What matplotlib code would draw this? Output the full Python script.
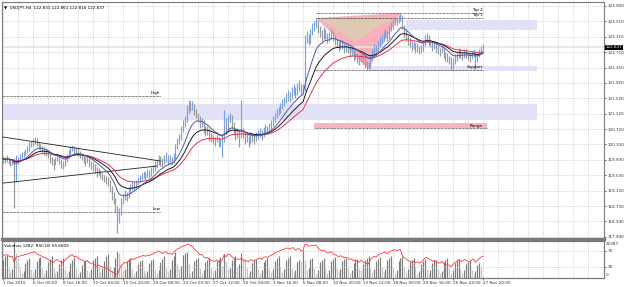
import numpy as np
import matplotlib.pyplot as plt
from matplotlib.patches import Rectangle, Polygon

# USDJPY H4, 1 Oct - 27 Nov 2015
first_open = 119.90
closes = [
    119.95, 119.92, 119.98, 119.90, 119.85, 119.88, 119.40, 119.85,
    119.95, 120.00, 120.05, 120.10, 120.15, 120.20, 120.30, 120.35,
    120.40, 120.45, 120.35, 120.30, 120.25, 120.20, 120.15, 120.10,
    120.05, 119.95, 119.90, 119.85, 119.95, 120.00, 119.90, 119.85,
    119.80, 119.90, 120.00, 120.10, 120.20, 120.25, 120.15, 120.20,
    120.10, 120.05, 120.00, 119.95, 119.90, 119.95, 119.85, 119.80,
    119.75, 119.70, 119.60, 119.65, 119.55, 119.50, 119.45, 119.40,
    119.35, 119.20, 119.00, 118.90, 118.70, 118.40, 118.60, 118.85,
    118.95, 119.05, 119.00, 119.15, 119.20, 119.30, 119.25, 119.35,
    119.40, 119.45, 119.50, 119.55, 119.50, 119.60, 119.55, 119.65,
    119.70, 119.80, 119.85, 119.95, 119.90, 119.85, 119.95, 120.00,
    119.90, 119.95, 119.90, 120.00, 120.25, 120.40, 120.50, 120.70,
    120.85, 120.95, 121.25, 121.40, 121.30, 121.35, 121.20, 121.10,
    121.00, 120.85, 120.90, 120.75, 120.65, 120.70, 120.55, 120.50,
    120.45, 120.40, 120.50, 120.35, 120.40, 120.45, 120.90, 120.75,
    121.00, 121.05, 120.85, 120.70, 120.60, 120.65, 120.60, 120.70,
    120.60, 120.45, 120.50, 120.40, 120.55, 120.50, 120.45, 120.55,
    120.60, 120.65, 120.55, 120.70, 120.75, 120.70, 120.80, 120.85,
    120.95, 121.05, 121.15, 121.20, 121.30, 121.40, 121.45, 121.55,
    121.60, 121.55, 121.70, 121.75, 121.65, 121.80, 121.85, 121.75,
    121.80, 123.05, 123.15, 123.00, 123.20, 123.35, 123.40, 123.50,
    123.30, 123.20, 123.10, 123.25, 123.15, 123.05, 123.10, 123.20,
    123.10, 123.00, 122.95, 122.85, 122.95, 122.90, 122.80, 122.85,
    122.80, 122.70, 122.75, 122.60, 122.65, 122.55, 122.50, 122.60,
    122.50, 122.40, 122.35, 122.35, 122.55, 122.70, 122.80, 122.75,
    122.90, 123.00, 123.05, 123.15, 123.20, 123.10, 123.30, 123.40,
    123.45, 123.55, 123.50, 123.60, 123.65, 123.35, 123.20, 123.10,
    123.00, 122.95, 122.85, 122.90, 122.80, 122.85, 122.75, 122.80,
    122.90, 123.05, 123.10, 123.00, 122.95, 122.85, 122.90, 122.80,
    122.75, 122.70, 122.80, 122.65, 122.60, 122.55, 122.50, 122.35,
    122.45, 122.55, 122.60, 122.70, 122.65, 122.60, 122.70, 122.65,
    122.60, 122.55, 122.65, 122.70, 122.50, 122.60, 122.70, 122.80,
    122.837,
]
highs = [
    120.02, 120.00, 120.05, 120.00, 119.95, 119.96, 119.98, 120.05,
    120.00, 120.08, 120.12, 120.15, 120.22, 120.28, 120.38, 120.42,
    120.48, 120.52, 120.50, 120.40, 120.35, 120.30, 120.25, 120.22,
    120.15, 120.10, 120.00, 119.95, 120.00, 120.08, 120.05, 119.95,
    119.90, 119.98, 120.08, 120.18, 120.28, 120.32, 120.30, 120.26,
    120.24, 120.15, 120.10, 120.05, 120.00, 120.02, 119.98, 119.90,
    119.88, 119.82, 119.75, 119.72, 119.68, 119.60, 119.55, 119.52,
    119.48, 119.40, 119.25, 119.10, 118.95, 118.75, 118.70, 118.95,
    119.05, 119.15, 119.10, 119.22, 119.30, 119.38, 119.35, 119.42,
    119.50, 119.55, 119.58, 119.65, 119.62, 119.70, 119.68, 119.75,
    119.80, 119.90, 119.95, 120.05, 120.02, 119.98, 120.05, 120.12,
    120.05, 120.05, 120.00, 120.10, 120.35, 120.50, 120.60, 120.80,
    120.95, 121.05, 121.35, 121.48, 121.45, 121.45, 121.38, 121.25,
    121.15, 121.05, 121.00, 120.95, 120.80, 120.80, 120.75, 120.62,
    120.58, 120.52, 120.60, 120.52, 120.50, 120.55, 121.22, 121.00,
    121.10, 121.15, 121.08, 120.90, 120.75, 120.75, 120.72, 121.47,
    120.75, 120.65, 120.60, 120.55, 120.65, 120.62, 120.58, 120.65,
    120.70, 120.75, 120.70, 120.78, 120.85, 120.80, 120.88, 120.95,
    121.05, 121.15, 121.25, 121.30, 121.40, 121.50, 121.55, 121.65,
    121.72, 121.68, 121.80, 121.88, 121.80, 121.92, 121.99, 121.90,
    121.90, 123.15, 123.25, 123.18, 123.30, 123.45, 123.52, 123.59,
    123.55, 123.38, 123.28, 123.35, 123.30, 123.20, 123.22, 123.30,
    123.25, 123.15, 123.08, 123.00, 123.05, 123.02, 122.95, 122.95,
    122.92, 122.85, 122.85, 122.80, 122.75, 122.70, 122.62, 122.70,
    122.65, 122.55, 122.48, 122.45, 122.65, 122.80, 122.92, 122.90,
    123.00, 123.10, 123.15, 123.25, 123.30, 123.25, 123.38, 123.48,
    123.55, 123.62, 123.60, 123.68, 123.72, 123.68, 123.40, 123.28,
    123.15, 123.08, 123.00, 123.00, 122.95, 122.95, 122.88, 122.90,
    123.00, 123.15, 123.20, 123.15, 123.05, 123.00, 122.98, 122.95,
    122.88, 122.82, 122.90, 122.85, 122.72, 122.68, 122.62, 122.58,
    122.55, 122.65, 122.72, 122.82, 122.78, 122.72, 122.80, 122.78,
    122.72, 122.68, 122.75, 122.80, 122.72, 122.70, 122.78, 122.88,
    122.92,
]
lows = [
    119.85, 119.86, 119.88, 119.82, 119.78, 119.80, 118.69, 119.35,
    119.82, 119.90, 119.95, 120.00, 120.05, 120.10, 120.15, 120.25,
    120.30, 120.35, 120.28, 120.22, 120.18, 120.10, 120.05, 120.02,
    119.98, 119.85, 119.80, 119.68, 119.80, 119.90, 119.82, 119.72,
    119.70, 119.78, 119.88, 119.98, 120.06, 120.15, 120.08, 120.10,
    120.02, 119.98, 119.92, 119.85, 119.78, 119.85, 119.75, 119.70,
    119.65, 119.60, 119.50, 119.55, 119.45, 119.40, 119.35, 119.30,
    119.25, 119.10, 118.90, 118.78, 118.55, 118.04, 118.30, 118.50,
    118.80, 118.90, 118.88, 118.95, 119.08, 119.15, 119.15, 119.20,
    119.30, 119.35, 119.40, 119.45, 119.40, 119.48, 119.45, 119.52,
    119.58, 119.65, 119.72, 119.80, 119.78, 119.75, 119.82, 119.88,
    119.80, 119.82, 119.80, 119.85, 119.95, 120.20, 120.35, 120.45,
    120.65, 120.78, 120.90, 121.15, 121.20, 121.22, 121.10, 121.00,
    120.90, 120.75, 120.78, 120.62, 120.55, 120.58, 120.42, 120.38,
    120.35, 120.30, 120.38, 120.25, 120.28, 120.00, 120.40, 120.60,
    120.70, 120.90, 120.75, 120.58, 120.45, 120.50, 120.25, 120.50,
    120.50, 120.35, 120.38, 120.25, 120.35, 120.40, 120.35, 120.42,
    120.48, 120.52, 120.45, 120.52, 120.62, 120.60, 120.66, 120.72,
    120.80, 120.90, 121.00, 121.08, 121.15, 121.25, 121.32, 121.40,
    121.45, 121.42, 121.50, 121.60, 121.52, 121.60, 121.70, 121.62,
    121.65, 121.70, 122.95, 122.90, 122.95, 123.15, 123.25, 123.32,
    123.20, 123.10, 123.00, 123.05, 123.05, 122.95, 123.00, 123.05,
    123.00, 122.90, 122.85, 122.75, 122.80, 122.78, 122.70, 122.72,
    122.70, 122.58, 122.62, 122.48, 122.52, 122.42, 122.38, 122.45,
    122.40, 122.30, 122.25, 122.25, 122.30, 122.50, 122.65, 122.62,
    122.70, 122.85, 122.92, 123.00, 123.08, 123.00, 123.05, 123.25,
    123.30, 123.40, 123.40, 123.45, 123.50, 123.30, 123.10, 123.00,
    122.90, 122.85, 122.75, 122.78, 122.70, 122.72, 122.65, 122.68,
    122.75, 122.88, 122.98, 122.90, 122.85, 122.75, 122.80, 122.70,
    122.65, 122.60, 122.68, 122.55, 122.48, 122.45, 122.40, 122.25,
    122.28, 122.40, 122.48, 122.55, 122.55, 122.50, 122.55, 122.55,
    122.50, 122.45, 122.52, 122.58, 122.27, 122.45, 122.58, 122.65,
    122.72,
]
volumes = [
    11000, 13500, 14500, 6500, 3500, 5500, 22387, 15500,
    12500, 6000, 3000, 4500, 9500, 11500, 12500, 5500,
    3500, 5500, 10500, 12500, 13000, 6000, 3000, 5000,
    10000, 12000, 13500, 6500, 3200, 4500, 9000, 11000,
    12500, 5500, 3000, 4500, 9500, 11500, 13000, 6000,
    2500, 4000, 8000, 10500, 11500, 5000, 3500, 5500,
    11000, 12500, 13500, 7000, 4000, 6000, 10500, 14000,
    15000, 7500, 5000, 7000, 12500, 17000, 15500, 8000,
    4500, 5500, 10500, 12000, 12500, 5500, 2800, 4200,
    8500, 10500, 11500, 5000, 3000, 4500, 9500, 11000,
    12000, 5500, 3200, 5000, 10000, 12000, 13500, 6500,
    3500, 5500, 11000, 14000, 16000, 8500, 5500, 7500,
    14500, 15500, 16500, 8500, 2500, 4200, 10500, 12000,
    12500, 6000, 3000, 4800, 10000, 11500, 13000, 6500,
    3500, 5000, 10500, 12000, 13000, 7500, 15000, 10500,
    5500, 6500, 11500, 12500, 14000, 7000, 9000, 15500,
    12500, 12000, 6500, 2500, 4200, 9500, 11000, 12000,
    5500, 3200, 4800, 10000, 11500, 12500, 6000, 3500,
    5500, 10500, 12500, 14000, 7000, 4000, 5500, 11000,
    12500, 13500, 6500, 3500, 5000, 10000, 11500, 10500,
    17500, 11500, 5000, 6500, 12000, 12500, 6000, 2500,
    4800, 10000, 11500, 12500, 6000, 3200, 5000, 10500,
    12000, 13000, 6500, 3500, 5500, 10500, 12000, 12500,
    6000, 3000, 4800, 9500, 11000, 12000, 5500, 4800,
    8500, 11000, 12500, 13500, 6500, 3500, 5500, 10500,
    12000, 13000, 7000, 3500, 5500, 11000, 12500, 13500,
    6500, 3200, 5000, 10500, 12500, 14000, 7000, 3500,
    5500, 10000, 11500, 12500, 6000, 2500, 4200, 8500,
    10500, 12000, 5500, 3000, 4800, 9500, 11000, 11500,
    5500, 3000, 4500, 10000, 11000, 12500, 6000, 3200,
    5000, 9500, 11000, 12000, 5500, 3000, 4800, 8500,
    10000, 11000, 5000, 2500, 4200, 8000, 9500, 7000,
    1282,
]

x_tick_bars = list(range(0, 257, 16))
x_tick_labels = ["1 Oct 2015", "6 Oct 00:00", "8 Oct 16:00", "13 Oct 04:00",
                 "15 Oct 20:00", "20 Oct 08:00", "23 Oct 00:00", "27 Oct 12:00",
                 "30 Oct 04:00", "3 Nov 16:00", "6 Nov 08:00", "10 Nov 20:00",
                 "13 Nov 12:00", "18 Nov 00:00", "20 Nov 16:00", "25 Nov 04:00",
                 "27 Nov 20:00"]
y_ticks = [123.900, 123.510, 123.110, 122.710, 122.310, 121.920, 121.520, 121.120,
           120.720, 120.330, 119.930, 119.530, 119.130, 118.730, 118.340, 117.940]

# drawn objects (price levels / bar positions)
top2, top1, support = 123.72, 123.59, 122.25
high_lvl, low_lvl = 121.58, 118.59
zone_top = (215, 285, 123.28, 123.54)
zone_support = (196, 285, 122.22, 122.36)
zone_mid = (-2, 285, 120.96, 121.37)
zone_range = (166, 258, 120.75, 120.88)
triangle = [(167, 123.59), (212, 123.72), (195, 122.27)]
triangle_inner = [(168, 123.59), (208, 123.59), (188, 122.98)]
wedge_lines = [[(0, 120.52), (84, 119.90)], [(0, 119.33), (82, 119.77)]]

plt.rcParams['font.family'] = 'DejaVu Sans'
FS = 3.0

c = np.array(closes)
h = np.array(highs)
l = np.array(lows)
o = np.r_[first_open, c[:-1]]
v = np.array(volumes, dtype=float)
n = len(c)
idx = np.arange(n)


def ema(vals, p):
    k = 2.0 / (p + 1)
    out = np.empty(len(vals))
    out[0] = vals[0]
    for i in range(1, len(vals)):
        out[i] = out[i - 1] + k * (vals[i] - out[i - 1])
    return out


def rsi(vals, p=14):
    d = np.diff(vals)
    g = np.clip(d, 0, None)
    ls = np.clip(-d, 0, None)
    ag, al = g[:p].mean(), ls[:p].mean()
    out = [50.0]
    for i in range(len(d)):
        ag = (ag * (p - 1) + g[i]) / p
        al = (al * (p - 1) + ls[i]) / p
        out.append(100 - 100 / (1 + ag / al) if al > 0 else 100)
    out[0] = out[1]
    return np.array(out)


W, H = 625, 287
fig = plt.figure(figsize=(W / 100, H / 100), dpi=100)
fig.patch.set_facecolor('white')
L, R = 2, 604
ax = fig.add_axes([L / W, 1 - 239 / H, (R - L) / W, 237 / H])
av = fig.add_axes([L / W, 1 - 278 / H, (R - L) / W, 37 / H])

xmax = (R - L) / 1.875 - 0.5
grid_kw = dict(color='#c8c8c8', lw=0.5, ls=(0, (1.5, 1.5)), zorder=0)

# ---- main chart ----
ax.set_xlim(-0.5, xmax)
ax.set_ylim(117.888, 124.003)
for gx in range(0, int(xmax), 8):
    ax.axvline(gx, **grid_kw)
for gy in y_ticks:
    ax.axhline(gy, **grid_kw)

for x0, x1, y0, y1 in [zone_top, zone_support, zone_mid]:
    ax.add_patch(Rectangle((x0, y0), x1 - x0, y1 - y0, fc='#e1e1f7', ec='none', zorder=1))
x0, x1, y0, y1 = zone_range
ax.add_patch(Rectangle((x0, y0), x1 - x0, y1 - y0, fc='#f8b4bf', ec='none', zorder=1))
ax.plot([x0, x1], [y0, y0], color='black', lw=0.5, ls=(0, (1, 1)), zorder=2)
ax.add_patch(Polygon(triangle, closed=True, fc='#f9b0bc', ec='none', zorder=1))
ax.add_patch(Polygon(triangle_inner, closed=True, fc='#e0c9b4', ec='none', zorder=1))

ax.axhline(c[-1], color='#e4e4e4', lw=1.2, zorder=1)

dot = dict(color='black', lw=0.5, ls=(0, (1, 1)), zorder=2)
ax.plot([167, 256], [top2, top2], **dot)
ax.plot([167, 256], [top1, top1], **dot)
ax.plot([166, 256], [support, support], **dot)
ax.plot([-1, 84], [high_lvl, high_lvl], **dot)
ax.plot([-1, 84], [low_lvl, low_lvl], **dot)
for seg in wedge_lines:
    ax.plot([seg[0][0], seg[1][0]], [seg[0][1], seg[1][1]], color='#202020', lw=0.6, zorder=4)

ax.text(256, top2 + 0.03, "Top 2", fontsize=FS, ha='right', va='bottom', zorder=6)
ax.text(256, top1 + 0.02, "Top 1", fontsize=FS, ha='right', va='bottom', zorder=6)
ax.text(256, support + 0.02, "Support", fontsize=FS, ha='right', va='bottom', zorder=6)
ax.text(84, high_lvl + 0.02, "High", fontsize=FS, ha='right', va='bottom', zorder=6)
ax.text(84, low_lvl + 0.02, "Low", fontsize=FS, ha='right', va='bottom', zorder=6)
ax.text(256, zone_range[2] + 0.01, "Range", fontsize=FS, ha='right', va='bottom', zorder=6)

up = c >= o
ax.vlines(idx[up], l[up], h[up], color='#78a2ea', lw=0.85, zorder=3)
ax.vlines(idx[~up], l[~up], h[~up], color='#9a9a9a', lw=0.85, zorder=3)

ax.plot(idx, ema(c, 34), color='#e8334f', lw=0.7, zorder=4)
ax.plot(idx, ema(c, 21), color='#1a1a1a', lw=0.7, zorder=4)
ax.plot(idx, ema(c, 12), color='#5555b0', lw=0.7, zorder=4)

ax.yaxis.tick_right()
ax.set_yticks(y_ticks)
ax.set_yticklabels([f"{t:.3f}" for t in y_ticks])
ax.tick_params(axis='y', labelsize=FS, length=1.5, width=0.5, pad=1, colors='#303030')
ax.set_xticks([])
for s in ax.spines.values():
    s.set_color('#7a7a7a')
    s.set_linewidth(0.8)
ax.spines['bottom'].set_linewidth(2.4)

ax.text(0.003, 0.985, "\u25bc  USDJPY,H4  122.831 122.861 122.816 122.837", transform=ax.transAxes,
        fontsize=FS, ha='left', va='top', zorder=6)
ax.text(1.003, (c[-1] - 117.888) / (124.003 - 117.888), f"{c[-1]:.3f}", transform=ax.transAxes,
        fontsize=FS, color='white', ha='left', va='center', zorder=7,
        bbox=dict(boxstyle='square,pad=0.15', fc='black', ec='none'))

# ---- volumes + RSI ----
av.set_xlim(-0.5, xmax)
av.set_ylim(0, 22387 * 1.03)
for gx in range(0, int(xmax), 8):
    av.axvline(gx, **grid_kw)
vol_up = np.r_[True, v[1:] > v[:-1]]
av.vlines(idx[vol_up], 0, v[vol_up], color='#7c7c7c', lw=0.85, zorder=2)
av.vlines(idx[~vol_up], 0, v[~vol_up], color='#c4c4c4', lw=0.85, zorder=2)
av.set_yticks([])

ar = av.twinx()
ar.set_ylim(2.5, 95)
ar.axhline(70, **grid_kw)
ar.axhline(30, **grid_kw)
ar.plot(idx, rsi(c), color='#ff3b3b', lw=0.6, zorder=3)
ar.set_yticks([70, 30])
ar.set_yticklabels(["70", "30"])
ar.tick_params(axis='y', labelsize=FS, length=1.5, width=0.5, pad=1, colors='#303030')
ar.set_xlim(-0.5, xmax)

av.set_xticks(x_tick_bars)
av.set_xticklabels(x_tick_labels, ha='left')
av.tick_params(axis='x', labelsize=FS, length=1.5, width=0.5, pad=1, colors='#303030')
for a in (av, ar):
    for s in a.spines.values():
        s.set_color('#7a7a7a')
        s.set_linewidth(0.8)

fig.text(606 / W, 1 - 244 / H, "22387", fontsize=FS, va='center', color='#303030')
fig.text(606 / W, 1 - 275 / H, "0", fontsize=FS, va='center', color='#303030')
av.text(0.003, 0.93, "Volumes 1282  RSI(14) 55.6609", transform=av.transAxes,
        fontsize=FS, ha='left', va='top', zorder=6)

fig.savefig("out.png", dpi=100)
